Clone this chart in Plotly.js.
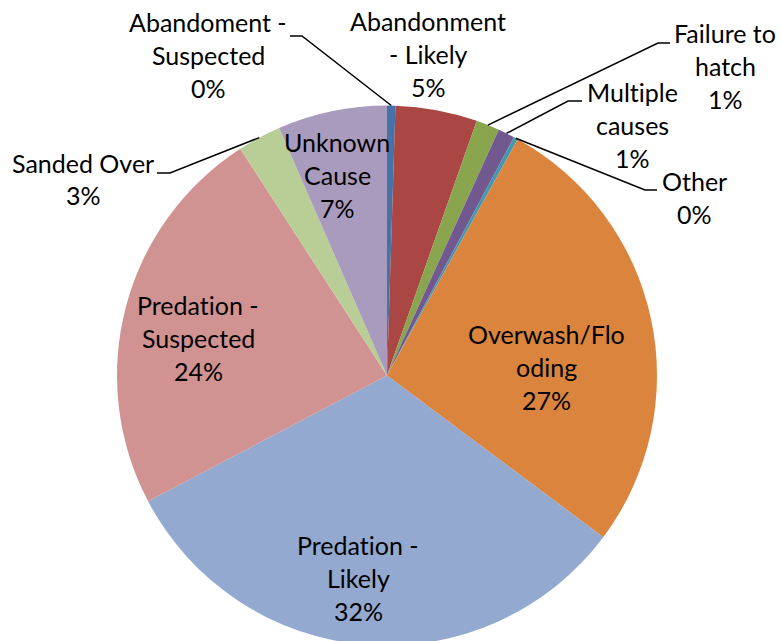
<!DOCTYPE html>
<html>
<head>
<meta charset="utf-8">
<script src="https://cdn.plot.ly/plotly-3.0.1.min.js"></script>
<style>
html, body { margin: 0; padding: 0; overflow: hidden; background: #fff; }
#chart { width: 781px; height: 646px; }
svg text { font-variant-ligatures: none; font-feature-settings: "liga" 0, "clig" 0; }
</style>
</head>
<body>
<div id="chart"></div>
<script>
// ---- data ----
const labels = ["Abandoment - Suspected", "Abandonment - Likely", "Failure to hatch", "Multiple causes", "Other",
                "Overwash/Flooding", "Predation - Likely", "Predation - Suspected", "Sanded Over", "Unknown Cause"];
const values = [0.5, 4.9, 1.4, 1.0, 0.25, 27.2, 32.1, 23.6, 2.6, 6.55];
const wrappedLabels = ["Abandoment -|Suspected", "Abandonment|- Likely", "Failure to|hatch", "Multiple|causes", "Other",
                       "Overwash/Flo|oding", "Predation -|Likely", "Predation -|Suspected", "Sanded Over", "Unknown|Cause"];
const colors = ["#4572A7", "#AA4643", "#89A54E", "#71588F", "#4198AF",
                "#DB843D", "#93A9CF", "#D19392", "#B9CD96", "#A99BBD"];

// ---- layout helpers (pixel positions of labels, not data) ----
const W = 781, H = 646;
const CX = 387, CY = 375.5, R = 270;
const px2x = p => p / W;
const px2y = p => 1 - p / H;
const labelCenters = [[208,55],[428,54],[725,66],[632,125],[694,197],[546,367],[358,578],[198,338],[83,179],[337,175]];
// leader lines: [textEnd, elbow] for outside labels
const leaders = {0: [[290,36],[302,36]], 2: [[670,43],[658,43]], 3: [[582,101],[568,101]],
                 4: [[657,190],[645,190]], 8: [[157,173],[170,173]]};
const LINE_H = 33;
const FONT = {family: "Lato, Liberation Sans, Arial, sans-serif", size: 25, color: "#000"};

const total = values.reduce((a, b) => a + b, 0);
const annotations = [];
const shapes = [];
let cum = 0;
values.forEach((v, i) => {
  const mid = (cum + v / 2) / total;
  cum += v;
  const lines = wrappedLabels[i].split("|").concat([Math.round(v / total * 100) + "%"]);
  const [cx, cy] = labelCenters[i];
  lines.forEach((t, k) => {
    annotations.push({
      x: px2x(cx), y: px2y(cy + (k - (lines.length - 1) / 2) * LINE_H),
      xref: "paper", yref: "paper", text: t, showarrow: false,
      xanchor: "center", yanchor: "middle", font: FONT
    });
  });
  if (leaders[i]) {
    const ang = mid * 2 * Math.PI;
    const tip = [CX + R * Math.sin(ang), CY - R * Math.cos(ang)];
    const [a, b] = leaders[i];
    shapes.push({
      type: "path", xref: "paper", yref: "paper",
      path: `M ${px2x(a[0])} ${px2y(a[1])} L ${px2x(b[0])} ${px2y(b[1])} L ${px2x(tip[0])} ${px2y(tip[1])}`,
      line: {color: "#000", width: 1.5}
    });
  }
});

const trace = {
  type: "pie",
  labels: labels,
  values: values,
  sort: false,
  direction: "clockwise",
  rotation: 0,
  textinfo: "none",
  hoverinfo: "label+percent",
  marker: {colors: colors, line: {width: 0}},
  domain: {x: [(CX - R) / W, (CX + R) / W], y: [0, 1 - 105 / H]},
  showlegend: false
};

Plotly.newPlot("chart", [trace], {
  width: W, height: H,
  margin: {l: 0, r: 0, t: 0, b: 0},
  paper_bgcolor: "#fff",
  showlegend: false,
  annotations: annotations,
  shapes: shapes
}, {displayModeBar: false, staticPlot: true});
</script>
</body>
</html>
